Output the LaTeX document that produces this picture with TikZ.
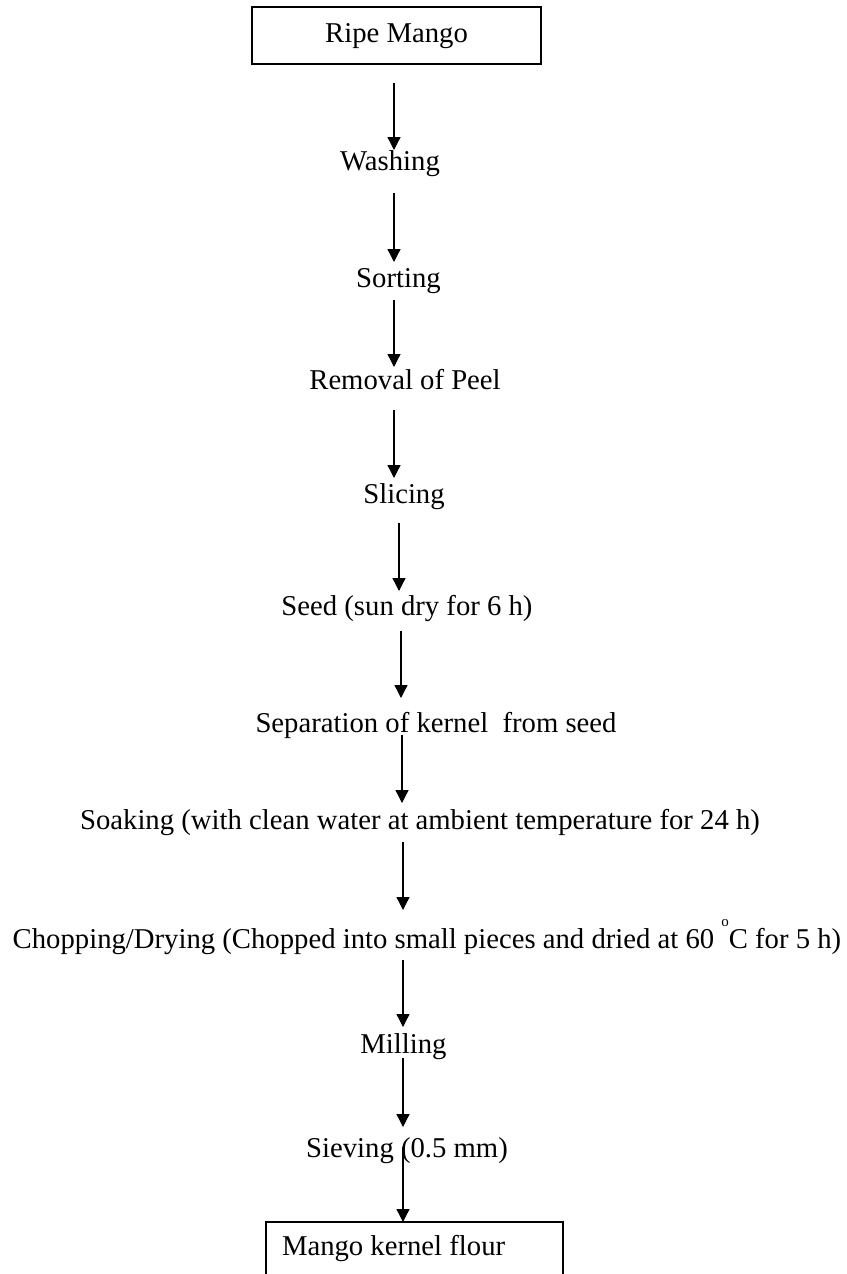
\documentclass[tikz,border=0pt]{standalone}
\usepackage{fontspec}
\setmainfont{Liberation Serif}
\usetikzlibrary{arrows.meta}
\begin{document}
\begin{tikzpicture}[x=1pt,y=-1pt,
  every node/.style={font=\fontsize{28.7}{34}\selectfont},
  lbl/.style={inner sep=0pt,outer sep=0pt,text height=19pt,text depth=6pt,anchor=base},
  boxnode/.style={draw,line width=1.3pt,inner sep=0pt,outer sep=0pt},
  arr/.style={line width=1.3pt,-{Triangle[width=13pt,length=13pt]}}]
\useasboundingbox[fill=white] (0,0) rectangle (846,1274);
% nodes
\node[boxnode,minimum width=289pt,minimum height=57pt,text height=19pt,text depth=6pt] (ripe) at (396.5,35.5) {Ripe Mango};
\node[lbl] (wash) at (390,170) {Washing};
\node[lbl] (sort) at (398.5,287) {Sorting};
\node[lbl] (peel) at (405,389) {Removal of Peel};
\node[lbl] (slic) at (404,503) {Slicing};
\node[lbl] (seed) at (407,615) {Seed (sun dry for 6 h)};
\node[lbl] (sep) at (436,732) {Separation of kernel\ \ from seed};
\node[lbl] (soak) at (420,829) {Soaking (with clean water at ambient temperature for 24 h)};
\node[lbl] (chop) at (427,948) {Chopping/Drying (Chopped into small pieces and dried at 60 \raisebox{22pt}{\fontsize{15}{15}\selectfont o}C for 5 h)};
\node[lbl] (mill) at (403.5,1053) {Milling};
\node[lbl] (siev) at (407,1157) {Sieving (0.5 mm)};
\node[boxnode,minimum width=297pt,minimum height=80pt,text height=19pt,text depth=33pt] (flour) at (414.5,1262) {\makebox[265pt][l]{Mango kernel flour}};
% connectors
\draw[arr,shorten <=19pt,shorten >=1pt] (ripe.south -| 394,0) -- (wash.north -| 394,0);
\draw[arr,shorten <=17pt,shorten >=6pt] (wash.south -| 394,0) -- (sort.north -| 394,0);
\draw[arr,shorten <=7pt,shorten >=3pt] (sort.south -| 394,0) -- (peel.north -| 394,0);
\draw[arr,shorten <=15pt,shorten >=6pt] (peel.south -| 394,0) -- (slic.north -| 394,0);
\draw[arr,shorten <=14pt,shorten >=5pt] (slic.south -| 399,0) -- (seed.north -| 399,0);
\draw[arr,shorten <=10pt,shorten >=15pt] (seed.south -| 401,0) -- (sep.north -| 401,0);
\draw[arr,shorten <=-3pt,shorten >=7pt] (sep.south -| 402,0) -- (soak.north -| 402,0);
\draw[arr,shorten <=7pt,shorten >=19pt] (soak.south -| 403,0) -- (chop.north -| 403,0);
\draw[arr,shorten <=6pt,shorten >=7pt] (chop.south -| 403,0) -- (mill.north -| 403,0);
\draw[arr,shorten <=-1pt,shorten >=11pt] (mill.south -| 403,0) -- (siev.north -| 403,0);
\draw[arr,shorten <=-16pt,shorten >=0pt] (siev.south -| 403,0) -- (flour.north -| 403,0);
\end{tikzpicture}
\end{document}
